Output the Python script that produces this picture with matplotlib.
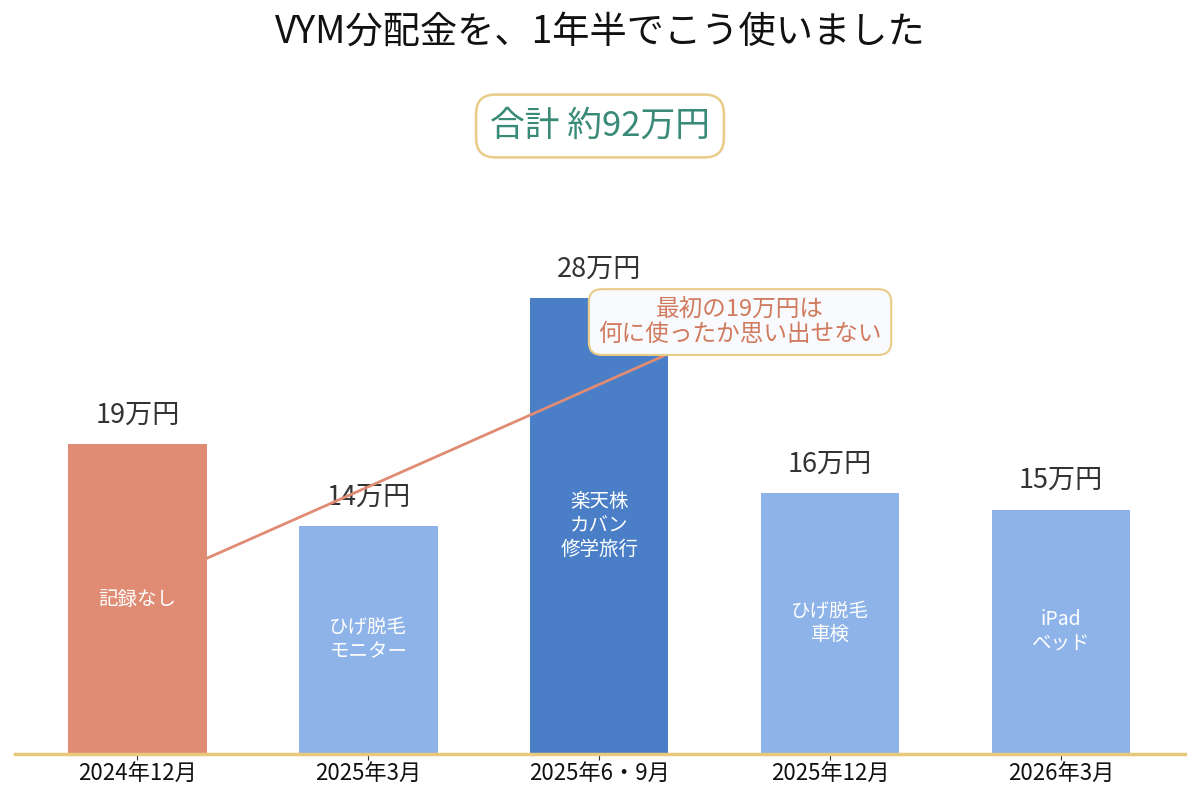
import matplotlib
matplotlib.use("Agg")
import matplotlib.pyplot as plt

plt.rcParams["font.family"] = ["Noto Sans CJK JP", "DejaVu Sans"]

# データ
periods = ["2024年12月", "2025年3月", "2025年6・9月", "2025年12月", "2026年3月"]
amounts = [19, 14, 28, 16, 15]  # 万円
uses = ["記録なし", "ひげ脱毛\nモニター", "楽天株\nカバン\n修学旅行", "ひげ脱毛\n車検", "iPad\nベッド"]
bar_colors = ["#E08C74", "#8DB3E8", "#4A7FC8", "#8DB3E8", "#8DB3E8"]
total_label = "合計 約92万円"
note_text = "最初の19万円は\n何に使ったか思い出せない"

fig = plt.figure(figsize=(12, 8), dpi=100)
ax = fig.add_axes([0.0125, 0.0575, 0.975, 0.815])

x = list(range(len(periods)))
ax.bar(x, amounts, width=0.6, color=bar_colors, zorder=2)

for xi, val, use in zip(x, amounts, uses):
    ax.annotate(f"{val}万円", xy=(xi, val), xytext=(0, 11), textcoords="offset points",
                ha="center", va="bottom", fontsize=19.5, color="#333333", zorder=3)
    ax.text(xi, val / 2, use, ha="center", va="center", fontsize=14,
            color="white", linespacing=1.18, zorder=3)

# 注記
ax.annotate(note_text, xy=(0.3, 12), xytext=(2.61, 26.5),
            ha="center", va="center", fontsize=17, color="#D07A5E", linespacing=1.05,
            bbox=dict(boxstyle="round,pad=0.4,rounding_size=0.55", fc="#F8FAFD",
                      ec="#E8CC88", lw=1.5),
            arrowprops=dict(arrowstyle="-", color="#E08C74", lw=2, shrinkA=0, shrinkB=0),
            zorder=5)

ax.set_xlim(-0.53, 4.537)
ax.set_ylim(0, 40)
ax.set_xticks(x)
ax.set_xticklabels(periods, fontsize=16, color="#111111")
ax.set_yticks([])
for side in ["top", "right", "left"]:
    ax.spines[side].set_visible(False)
ax.spines["bottom"].set_color("#E8C87A")
ax.spines["bottom"].set_linewidth(2.5)
ax.tick_params(axis="x", length=4, width=0.8, color="#333333", pad=2)

fig.text(0.5, 0.96, "VYM分配金を、1年半でこう使いました", ha="center", va="center",
         fontsize=26.8, color="#111111")
fig.text(0.5, 0.8425, total_label, ha="center", va="center", fontsize=25, color="#3A8A78",
         bbox=dict(boxstyle="round,pad=0.4,rounding_size=0.55", fc="white",
                   ec="#E8CC88", lw=1.8))

fig.savefig("out.png", dpi=100)
